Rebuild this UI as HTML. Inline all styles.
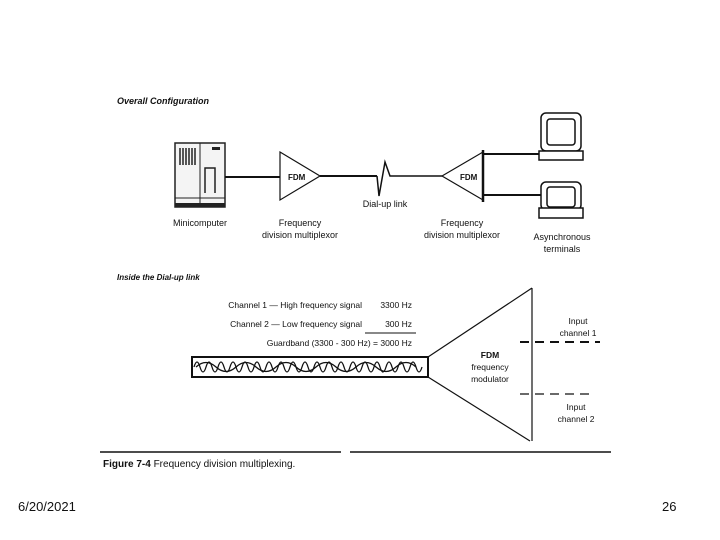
<!DOCTYPE html>
<html><head><style>body{margin:0;background:#fff}svg{display:block}text{font-family:"Liberation Sans",sans-serif;fill:#111}</style></head><body>
<svg width="720" height="540" viewBox="0 0 720 540" xmlns="http://www.w3.org/2000/svg">
<g font-size="9">
<text x="117" y="104" font-style="italic" font-weight="bold" font-size="9">Overall Configuration</text>
<!-- minicomputer -->
<rect x="175" y="143" width="50" height="64" fill="#f4f4f4" stroke="#222" stroke-width="1.5"/>
<line x1="200" y1="143" x2="200" y2="207" stroke="#222"/>
<line x1="175" y1="198" x2="225" y2="198" stroke="#222"/>
<rect x="175" y="203" width="50" height="4" fill="#222"/>
<g stroke="#222" stroke-width="1.5"><line x1="180" y1="148" x2="180" y2="165"/><line x1="183" y1="148" x2="183" y2="165"/><line x1="186" y1="148" x2="186" y2="165"/><line x1="189" y1="148" x2="189" y2="165"/><line x1="192" y1="148" x2="192" y2="165"/><line x1="195" y1="148" x2="195" y2="165"/></g>
<path d="M205 193 V168 H215 V193" fill="none" stroke="#222" stroke-width="1.5"/>
<rect x="212" y="147" width="8" height="3" fill="#222"/>
<!-- links -->
<g stroke="#111" stroke-width="2" fill="none">
<line x1="225" y1="177" x2="280" y2="177"/>
<path d="M280 152 L320 176 L280 200 Z" stroke-width="1.2"/>
<line x1="320" y1="176" x2="377" y2="176"/>
<path d="M377 176 L379 196 L385 162 L390 176 L442 176" stroke-width="1.5"/>
<path d="M442 176 L483 152 L483 200 Z" stroke-width="1.2"/>
<line x1="483" y1="150" x2="483" y2="202" stroke-width="2.5"/>
<line x1="483" y1="154" x2="542" y2="154"/>
<line x1="483" y1="195" x2="542" y2="195"/>
</g>
<text x="288" y="180" font-size="8" font-weight="bold">FDM</text>
<text x="460" y="180" font-size="8" font-weight="bold">FDM</text>
<!-- terminals -->
<g stroke="#111" stroke-width="1.5" fill="#fff">
<rect x="541" y="113" width="40" height="38" rx="5"/>
<rect x="547" y="119" width="28" height="26" rx="3"/>
<rect x="539" y="151" width="44" height="9"/>
<rect x="541" y="182" width="40" height="28" rx="5"/>
<rect x="547" y="187" width="28" height="20" rx="3"/>
<rect x="539" y="208" width="44" height="10"/>
</g>
<text x="200" y="226" text-anchor="middle">Minicomputer</text>
<text x="300" y="226" text-anchor="middle">Frequency</text>
<text x="300" y="238" text-anchor="middle">division multiplexor</text>
<text x="385" y="207" text-anchor="middle">Dial-up link</text>
<text x="462" y="226" text-anchor="middle">Frequency</text>
<text x="462" y="238" text-anchor="middle">division multiplexor</text>
<text x="562" y="240" text-anchor="middle">Asynchronous</text>
<text x="562" y="252" text-anchor="middle">terminals</text>
<text x="117" y="280" font-style="italic" font-weight="bold" font-size="8">Inside the Dial-up link</text>
<text x="362" y="308" text-anchor="end" font-size="8.5">Channel 1 — High frequency signal</text>
<text x="412" y="308" text-anchor="end" font-size="8.5">3300 Hz</text>
<text x="362" y="327" text-anchor="end" font-size="8.5">Channel 2 — Low frequency signal</text>
<text x="412" y="327" text-anchor="end" font-size="8.5">300 Hz</text>
<line x1="365" y1="333" x2="416" y2="333" stroke="#111"/>
<text x="412" y="346" text-anchor="end" font-size="8.5">Guardband (3300 - 300 Hz) = 3000 Hz</text>
<rect x="192" y="357" width="236" height="20" fill="none" stroke="#111" stroke-width="2"/>
<path d="M194 367 q3 -10 6 0 t6 0 t6 0 t6 0 t6 0 t6 0 t6 0 t6 0 t6 0 t6 0 t6 0 t6 0 t6 0 t6 0 t6 0 t6 0 t6 0 t6 0 t6 0 t6 0 t6 0 t6 0 t6 0 t6 0 t6 0 t6 0 t6 0 t6 0 t6 0 t6 0 t6 0 t6 0 t6 0 t6 0 t6 0 t6 0 t6 0 t6 0" fill="none" stroke="#111" stroke-width="1.3"/>
<path d="M196 367 q10 -9 20 0 t20 0 t20 0 t20 0 t20 0 t20 0 t20 0 t20 0 t20 0 t20 0 t20 0" fill="none" stroke="#111" stroke-width="1.3"/>
<g stroke="#111" stroke-width="1.2" fill="none">
<line x1="428" y1="357" x2="532" y2="288"/>
<line x1="428" y1="377" x2="530" y2="441"/>
<line x1="532" y1="288" x2="532" y2="441"/>
<line x1="520" y1="342" x2="600" y2="342" stroke-width="2" stroke-dasharray="9,6"/>
<line x1="520" y1="394" x2="595" y2="394" stroke-width="1.2" stroke-dasharray="9,6"/>
</g>
<text x="490" y="358" text-anchor="middle" font-weight="bold" font-size="8.5">FDM</text>
<text x="490" y="370" text-anchor="middle" font-size="8.5">frequency</text>
<text x="490" y="382" text-anchor="middle" font-size="8.5">modulator</text>
<text x="578" y="324" text-anchor="middle" font-size="8.5">Input</text>
<text x="578" y="336" text-anchor="middle" font-size="8.5">channel 1</text>
<text x="576" y="410" text-anchor="middle" font-size="8.5">Input</text>
<text x="576" y="422" text-anchor="middle" font-size="8.5">channel 2</text>
<line x1="100" y1="452" x2="341" y2="452" stroke="#111" stroke-width="1.5"/>
<line x1="350" y1="452" x2="611" y2="452" stroke="#111" stroke-width="1.5"/>
<text x="103" y="467" font-size="10"><tspan font-weight="bold">Figure 7-4</tspan> Frequency division multiplexing.</text>
</g>
<text x="18" y="511" font-size="13">6/20/2021</text>
<text x="662" y="511" font-size="13">26</text>
</svg>
</body></html>
